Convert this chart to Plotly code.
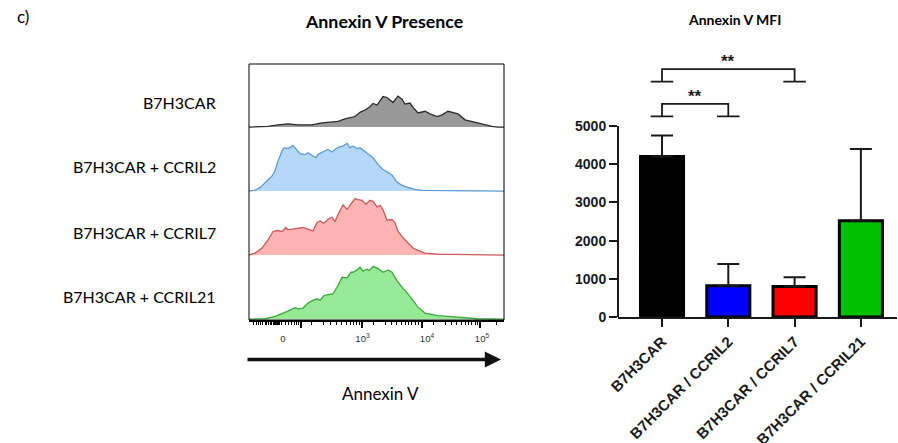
import plotly.graph_objects as go

W, H = 898, 443

# ---------------- data: histograms (display channel 0-255, % of row height) -------------
hist_labels = ["B7H3CAR", "B7H3CAR + CCRIL2", "B7H3CAR + CCRIL7", "B7H3CAR + CCRIL21"]

grey_x = [0, 19, 29, 39, 49, 63, 73, 83, 89, 96, 103, 106, 111, 116, 121, 124, 128, 133, 134, 138,
          144, 149, 153, 156, 161, 164, 169, 176, 181, 188, 193, 199, 204, 209, 216, 223, 229, 236,
          243, 249, 255]
grey_y = [0, 1, 3.6, 5.2, 3.6, 3.6, 6.8, 7.8, 8.9, 13, 15.6, 16.7, 23.4, 27, 32.3, 37.5, 34.9, 45.8,
          48.4, 46.9, 39, 49, 44.3, 36.5, 38, 31.3, 22.4, 25, 20.8, 16.7, 19.3, 25, 23.4, 20.8, 11.5,
          8.9, 6.3, 3.6, 1, 0, 0]

blue_x = [0, 6, 11, 16, 23, 26, 29, 33, 35, 38, 41, 44, 48, 51, 56, 59, 63, 67, 69, 74, 79, 83, 87,
          91, 94, 98, 101, 104, 108, 111, 114, 119, 124, 129, 133, 138, 143, 148, 153, 159, 166, 173,
          196, 216, 255]
blue_y = [0, 1.6, 5.3, 13.2, 23.8, 31.7, 47.6, 63.5, 68.8, 67.2, 68.8, 72.5, 65.1, 59.3, 57.7, 60.8,
          56.6, 52.9, 58.2, 61.9, 66.1, 61.9, 67.2, 70.4, 71.4, 75.7, 68.8, 71.4, 67.2, 68.8, 65.1,
          58.2, 52.9, 42.3, 35.4, 30.7, 25.4, 14.3, 9, 5.8, 2.6, 1.1, 1.1, 0, 0]

red_x = [0, 6, 13, 19, 24, 28, 33, 37, 39, 44, 49, 54, 59, 64, 68, 71, 75, 79, 83, 86, 90, 94, 98,
         101, 106, 109, 113, 117, 121, 124, 128, 131, 134, 138, 143, 146, 149, 154, 159, 164, 169,
         176, 189, 229, 255]
red_y = [0, 3.2, 11.1, 24.2, 37.4, 38.9, 37.4, 43.7, 40, 41.1, 41.6, 43.7, 41.1, 38.4, 51.6, 54.2,
         50.5, 56.8, 60, 53.2, 67.4, 79.5, 72.6, 79.5, 89.5, 87.9, 86.8, 80.5, 86.8, 85.3, 76.3, 78.9,
         72.1, 55.3, 56.3, 51.1, 37.9, 27.4, 18.9, 11.1, 7.4, 3.2, 1.6, 0.5, 0]

green_x = [0, 16, 26, 33, 39, 46, 49, 54, 59, 64, 68, 71, 75, 79, 84, 89, 93, 98, 102, 104, 108, 111,
           114, 118, 120, 124, 128, 131, 134, 139, 143, 148, 153, 159, 164, 169, 176, 183, 189, 199,
           209, 219, 229, 255]
green_y = [0, 0.5, 4.2, 8.4, 12.6, 17.9, 16.3, 17.4, 25.3, 29.5, 32.1, 29.5, 37.4, 38.9, 40, 53.2,
           66.3, 65.3, 74.2, 74.2, 77.9, 82.1, 75.8, 79.5, 76.8, 83.2, 81.1, 77.9, 74.2, 77.9, 74.2,
           61.1, 50.5, 40, 29.5, 18.9, 9.5, 6.8, 5.3, 4.2, 3.2, 1.6, 0.5, 0]

# flow axis labels (display channel positions) and tick marks
flow_label_pos = [34, 113.5, 178, 233]
flow_label_text = ["0", "10<sup>3</sup>", "10<sup>4</sup>", "10<sup>5</sup>"]
flow_major_ticks = [52, 113, 173, 231]
flow_minor_ticks = [4.3, 7, 9.3, 11.7, 13.7, 16, 17.7, 19.3, 21, 22.7, 24, 25, 26, 27, 28, 29, 30,
                    32.7, 36, 39.3, 42.7, 45, 47, 49.3, 62.7, 74.3, 81, 87.7, 92.7, 97, 101, 104.3,
                    107.7, 110.3, 124.3, 136, 142.7, 147.7, 152.7, 156, 159.3, 162.7, 166, 169.3,
                    184.3, 196, 202.7, 207.7, 212.7, 216, 219.3, 222.7, 226, 228.3, 247.7]

# ---------------- data: bar chart -------------
bar_categories = ["B7H3CAR", "B7H3CAR / CCRIL2", "B7H3CAR / CCRIL7", "B7H3CAR / CCRIL21"]
bar_means = [4200, 820, 800, 2520]
bar_err_plus = [550, 570, 240, 1880]
bar_colors = ["#000000", "#0000FF", "#FF0000", "#00C000"]
y_ticks = [0, 1000, 2000, 3000, 4000, 5000]

sig_pairs = [(0, 1), (0, 2)]
sig_labels = ["**", "**"]
sig_foot = [5250, 6160]
sig_rise = 330

# ---------------- helpers -------------
def px(x):
    return x / W

def py(y):
    return 1 - y / H

fig = go.Figure()

series = [
    (grey_x, grey_y, "#2b2b2b", "#999999"),
    (blue_x, blue_y, "#5b9bd5", "#b5d7f9"),
    (red_x, red_y, "#cc5a5a", "#ffb3b3"),
    (green_x, green_y, "#3aaa3a", "#96e996"),
]
row_tops = [64, 128, 192, 256]
row_h = 64
for i, (xs, ys, lc, fc) in enumerate(series):
    yname = "y" if i == 0 else f"y{i + 1}"
    fig.add_trace(go.Scatter(
        x=xs, y=ys, mode="lines", fill="tozeroy", fillcolor=fc,
        line=dict(color=lc, width=1.3), xaxis="x", yaxis=yname,
        showlegend=False, hoverinfo="skip"))

hx0, hx1 = px(249), px(504)
layout_axes = {}
for i in range(4):
    key = "yaxis" if i == 0 else f"yaxis{i + 1}"
    top = row_tops[i]
    layout_axes[key] = dict(domain=[py(top + row_h), py(top)], range=[-1.5, 100],
                            visible=False, anchor="x", fixedrange=True, automargin=False)

# main flow x axis: line + tick marks
layout_axes["xaxis"] = dict(
    domain=[hx0, hx1], range=[0, 255], anchor="y4", showgrid=False, zeroline=False,
    showline=True, linecolor="black", linewidth=1.5, automargin=False,
    tickmode="array", tickvals=flow_major_ticks, showticklabels=False,
    ticks="outside", ticklen=6, tickwidth=1.3, tickcolor="black",
    minor=dict(tickmode="array", tickvals=flow_minor_ticks, ticks="outside",
               ticklen=3, tickwidth=1, tickcolor="black", showgrid=False))
# overlay axis for labels
layout_axes["xaxis3"] = dict(
    domain=[hx0, hx1], range=[0, 255], anchor="y4", overlaying="x", side="bottom",
    showgrid=False, zeroline=False, showline=False, automargin=False,
    tickmode="array", tickvals=flow_label_pos, ticktext=flow_label_text,
    ticks="outside", ticklen=10, tickcolor="rgba(0,0,0,0)",
    tickfont=dict(family="Liberation Sans", size=9.5, color="#333333"))

# invisible trace to activate xaxis3
fig.add_trace(go.Scatter(x=[0], y=[-10], xaxis="x3", yaxis="y4", mode="markers",
                         marker=dict(opacity=0), showlegend=False, hoverinfo="skip"))

# ---------------- bar chart -------------
bar_pos = list(range(len(bar_categories)))
fig.add_trace(go.Bar(
    x=bar_pos, y=bar_means, xaxis="x2", yaxis="y5",
    marker=dict(color=bar_colors, line=dict(color="black", width=3)),
    width=0.65,
    error_y=dict(type="data", symmetric=False, array=bar_err_plus,
                 arrayminus=[0] * len(bar_means), color="#1a1a1a", thickness=2, width=11),
    showlegend=False, hoverinfo="skip"))

# significance brackets
bx, by = [], []
foot_half = 0.17
for (a, b), f in zip(sig_pairs, sig_foot):
    t = f + sig_rise
    bx += [a - foot_half, a + foot_half, None, a, a, b, b, None, b - foot_half, b + foot_half, None]
    by += [f, f, None, f, t, t, f, None, f, f, None]
fig.add_trace(go.Scatter(x=bx, y=by, xaxis="x2", yaxis="y5", mode="lines",
                         line=dict(color="#1a1a1a", width=1.8), showlegend=False,
                         hoverinfo="skip", cliponaxis=False))

bar_y0, bar_ytop = 317, 49.6
layout_axes["xaxis2"] = dict(
    domain=[px(618), px(897)], range=[-0.664, 3.545], anchor="y5", automargin=False,
    tickmode="array", tickvals=bar_pos, ticktext=bar_categories,
    showgrid=False, zeroline=False, showline=True, linecolor="#1a1a1a", linewidth=2,
    ticks="outside", ticklen=8, tickwidth=2, tickcolor="#1a1a1a", tickangle=-45,
    tickfont=dict(family="Liberation Sans", size=15, color="#1a1a1a", weight="bold"))
layout_axes["yaxis5"] = dict(
    domain=[py(bar_y0), py(bar_ytop)], range=[0, 7000], anchor="x2", automargin=False,
    showgrid=False, zeroline=False, showline=False,
    tickmode="array", tickvals=y_ticks, ticks="outside", ticklen=8, tickwidth=2,
    tickcolor="#1a1a1a",
    tickfont=dict(family="Liberation Sans", size=14, color="#1a1a1a", weight="bold"))

annotations = []
for (a, b), f, lab in zip(sig_pairs, sig_foot, sig_labels):
    annotations.append(dict(x=(a + b) / 2, y=f + sig_rise, xref="x2", yref="y5",
                            text=lab, showarrow=False, yanchor="bottom", yshift=-4,
                            font=dict(family="Liberation Sans", size=17, color="#1a1a1a",
                                      weight="bold")))

# row labels
label_y = [103, 167, 232, 296]
for lab, yy in zip(hist_labels, label_y):
    annotations.append(dict(x=px(218), y=py(yy), xref="paper", yref="paper", text=lab,
                            showarrow=False, xanchor="right", yanchor="middle",
                            font=dict(family="Lato", size=16, color="black")))

# titles
annotations.append(dict(x=px(384), y=py(21), xref="paper", yref="paper",
                        text="<b>Annexin V Presence</b>", showarrow=False,
                        xanchor="center", yanchor="middle",
                        font=dict(family="Lato", size=17.8, color="black")))
annotations.append(dict(x=px(734), y=py(19), xref="paper", yref="paper",
                        text="<b>Annexin V MFI</b>", showarrow=False,
                        xanchor="center", yanchor="middle",
                        font=dict(family="Lato", size=14, color="black")))
annotations.append(dict(x=px(23), y=py(16), xref="paper", yref="paper", text="c)",
                        showarrow=False, xanchor="center", yanchor="middle",
                        font=dict(family="Lato", size=17, color="black")))
# axis name and arrow
annotations.append(dict(x=px(380), y=py(393), xref="paper", yref="paper", text="Annexin V",
                        showarrow=False, xanchor="center", yanchor="middle",
                        font=dict(family="Lato", size=17, color="black")))
annotations.append(dict(x=px(501), y=py(359.5), xref="paper", yref="paper", text="",
                        showarrow=True, ax=-255, ay=0, arrowhead=2, arrowsize=0.9,
                        arrowwidth=3.6, arrowcolor="#111111"))

shapes = [
    # histogram box
    dict(type="rect", xref="paper", yref="paper", x0=hx0, x1=hx1, y0=py(320), y1=py(64),
         line=dict(color="black", width=1), layer="above"),
    # bar chart y-axis line 0..5000
    dict(type="line", xref="x2 domain", yref="y5", x0=0, x1=0, y0=0, y1=5000,
         line=dict(color="#1a1a1a", width=2)),
]

fig.update_layout(
    template="none",
    width=W, height=H, margin=dict(l=0, r=0, t=0, b=0, autoexpand=False),
    paper_bgcolor="white", plot_bgcolor="rgba(0,0,0,0)",
    annotations=annotations, shapes=shapes, bargap=0.35,
    **layout_axes)

fig.write_html("out.html",
               config={"displayModeBar": False, "staticPlot": True},
               post_script="document.body.style.margin='0';"
                           "document.body.style.overflow='hidden';")
